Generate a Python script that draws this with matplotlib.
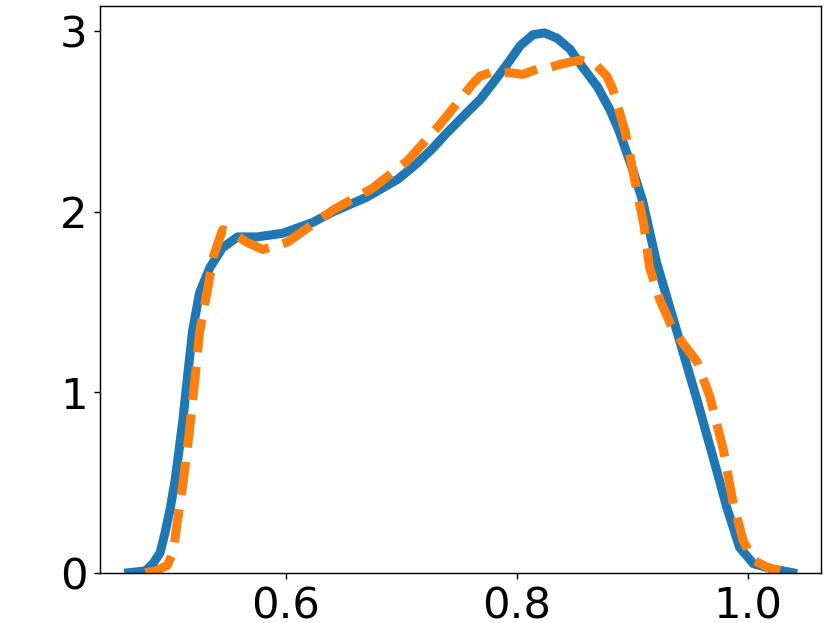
import matplotlib
matplotlib.use('Agg')
import matplotlib.pyplot as plt

# values
blue_x = [0.4636, 0.478, 0.4847, 0.4908, 0.4951, 0.4995, 0.5038, 0.5073, 0.5107, 0.514,
          0.519, 0.525, 0.534, 0.545, 0.558, 0.575, 0.597, 0.623, 0.641, 0.670,
          0.697, 0.714, 0.727, 0.740, 0.757, 0.768, 0.779, 0.792, 0.803, 0.814,
          0.824, 0.835, 0.846, 0.857, 0.870, 0.881, 0.889, 0.901, 0.909, 0.921,
          0.939, 0.956, 0.970, 0.982, 0.993, 1.005, 1.022, 1.039]
blue_y = [0.0, 0.01, 0.05, 0.11, 0.22, 0.35, 0.51, 0.68, 0.85, 1.05,
          1.34, 1.55, 1.69, 1.80, 1.86, 1.86, 1.88, 1.94, 2.00, 2.08,
          2.18, 2.27, 2.35, 2.44, 2.55, 2.62, 2.71, 2.82, 2.92, 2.98,
          2.99, 2.96, 2.90, 2.80, 2.69, 2.56, 2.44, 2.22, 2.06, 1.72,
          1.33, 0.96, 0.64, 0.36, 0.14, 0.05, 0.02, 0.0]

orange_x = [0.478, 0.487, 0.497, 0.502, 0.506, 0.511, 0.516, 0.521, 0.525, 0.532,
            0.537, 0.545, 0.554, 0.566, 0.580, 0.601, 0.621, 0.641, 0.675, 0.705,
            0.733, 0.762, 0.768, 0.777, 0.794, 0.805, 0.818, 0.829, 0.840, 0.855,
            0.869, 0.878, 0.883, 0.889, 0.894, 0.901, 0.910, 0.915, 0.924, 0.933,
            0.944, 0.956, 0.967, 0.979, 0.987, 0.996, 1.005, 1.017, 1.028]
orange_y = [0.0, 0.01, 0.04, 0.11, 0.29, 0.51, 0.77, 1.07, 1.33, 1.57,
            1.75, 1.90, 1.88, 1.83, 1.79, 1.83, 1.92, 2.01, 2.13, 2.28,
            2.48, 2.71, 2.75, 2.77, 2.77, 2.76, 2.79, 2.80, 2.82, 2.84,
            2.81, 2.75, 2.68, 2.55, 2.44, 2.21, 1.93, 1.69, 1.51, 1.38,
            1.27, 1.17, 0.98, 0.68, 0.40, 0.18, 0.07, 0.03, 0.01]

x_ticks = [0.6, 0.8, 1.0]
y_ticks = [0, 1, 2, 3]

fig = plt.figure(figsize=(830 / 130, 623 / 130), dpi=130)
ax = fig.add_axes([0.1205, 0.0807, 0.8687, 0.9097])

ax.plot(blue_x, blue_y, color='#1f77b4', linewidth=5)
ax.plot(orange_x, orange_y, color='#ff7f0e', linewidth=5, linestyle='--')

ax.set_xlim(0.4388, 1.0636)
ax.set_ylim(0, 3.139)
ax.set_xticks(x_ticks)
ax.set_xticklabels([f'{t:.1f}' for t in x_ticks])
ax.set_yticks(y_ticks)
ax.tick_params(labelsize=24)

fig.savefig('out.png', dpi=130)
